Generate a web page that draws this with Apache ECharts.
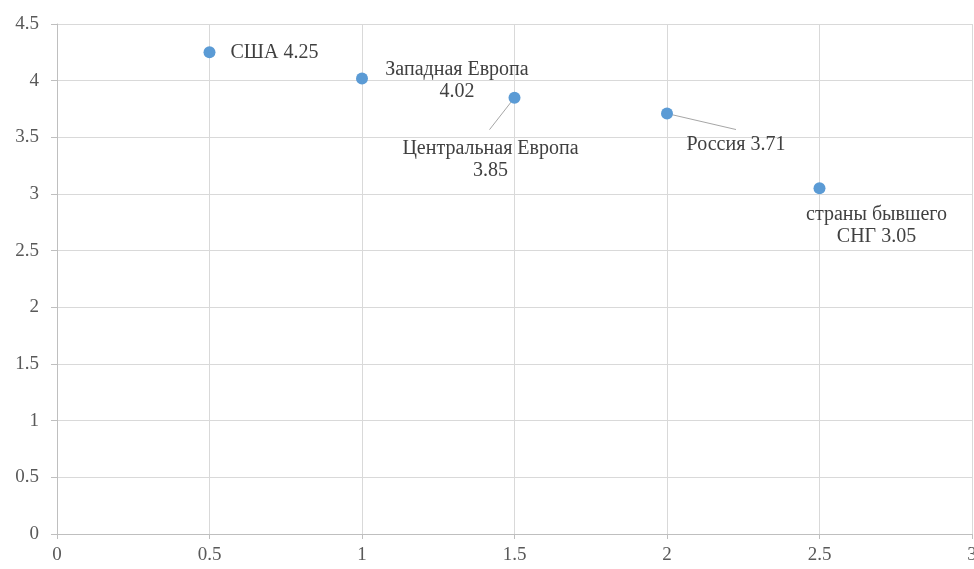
<!DOCTYPE html>
<html>
<head>
<meta charset="utf-8">
<script src="https://cdn.jsdelivr.net/npm/echarts@6/dist/echarts.min.js"></script>
<style>
html,body{margin:0;padding:0;background:#fff;}
#chart{width:974px;height:569px;}
</style>
</head>
<body>
<div id="chart"></div>
<script>
const names = ['США', 'Западная Европа', 'Центральная Европа', 'Россия', 'страны бывшего\nСНГ'];
const xValues = [0.5, 1, 1.5, 2, 2.5];
const yValues = [4.25, 4.02, 3.85, 3.71, 3.05];
const labelSeparators = [' ', '\n', '\n', ' ', ' '];
const xTicks = { min: 0, max: 3, interval: 0.5 };
const yTicks = { min: 0, max: 4.5, interval: 0.5 };

// label layout (pixel offsets from point centre) and leader-line end offsets (null = no leader)
const labelOffsets = [[65, 0], [95, 2], [-24, 62], [69, 31], [57, 37]];
const leaderEnds = [null, null, [-25, 32], [69, 16], null];

const chart = echarts.init(document.getElementById('chart'));
const fontFamily = '"Liberation Serif", "Times New Roman", serif';

const points = xValues.map((x, i) => [x, yValues[i]]);

chart.setOption({
  animation: false,
  backgroundColor: '#ffffff',
  grid: { left: 57, right: 2, top: 24, bottom: 35, containLabel: false, outerBoundsMode: 'none' },
  xAxis: {
    type: 'value',
    min: xTicks.min, max: xTicks.max, interval: xTicks.interval,
    axisLine: { show: true, onZero: false, lineStyle: { color: '#bfbfbf', width: 1 } },
    axisTick: { show: true, length: 5, lineStyle: { color: '#bfbfbf' } },
    axisLabel: { color: '#595959', fontFamily, fontSize: 19, margin: 12, showMaxLabel: true, showMinLabel: true },
    splitLine: { show: true, lineStyle: { color: '#d9d9d9', width: 1 } }
  },
  yAxis: {
    type: 'value',
    min: yTicks.min, max: yTicks.max, interval: yTicks.interval,
    axisLine: { show: true, onZero: false, lineStyle: { color: '#bfbfbf', width: 1 } },
    axisTick: { show: true, length: 6, lineStyle: { color: '#bfbfbf' } },
    axisLabel: { color: '#595959', fontFamily, fontSize: 19, margin: 18 },
    splitLine: { show: true, lineStyle: { color: '#d9d9d9', width: 1 } }
  },
  series: [{
    type: 'custom',
    silent: true,
    z: 2,
    data: points,
    renderItem: (params, api) => {
      const end = leaderEnds[params.dataIndex];
      if (!end) return null;
      const p = api.coord([api.value(0), api.value(1)]);
      return {
        type: 'line',
        shape: { x1: p[0], y1: p[1], x2: p[0] + end[0], y2: p[1] + end[1] },
        style: { stroke: '#a6a6a6', lineWidth: 1 }
      };
    }
  }, {
    type: 'scatter',
    symbol: 'circle',
    symbolSize: 12,
    itemStyle: { color: '#5b9bd5', opacity: 1 },
    data: points,
    label: {
      show: true,
      position: 'inside',
      align: 'center',
      verticalAlign: 'middle',
      color: '#404040',
      fontFamily,
      fontSize: 20,
      lineHeight: 22,
      formatter: p => names[p.dataIndex] + labelSeparators[p.dataIndex] + yValues[p.dataIndex]
    },
    labelLayout: p => ({ dx: labelOffsets[p.dataIndex][0], dy: labelOffsets[p.dataIndex][1] }),
    z: 3
  }]
});
</script>
</body>
</html>
